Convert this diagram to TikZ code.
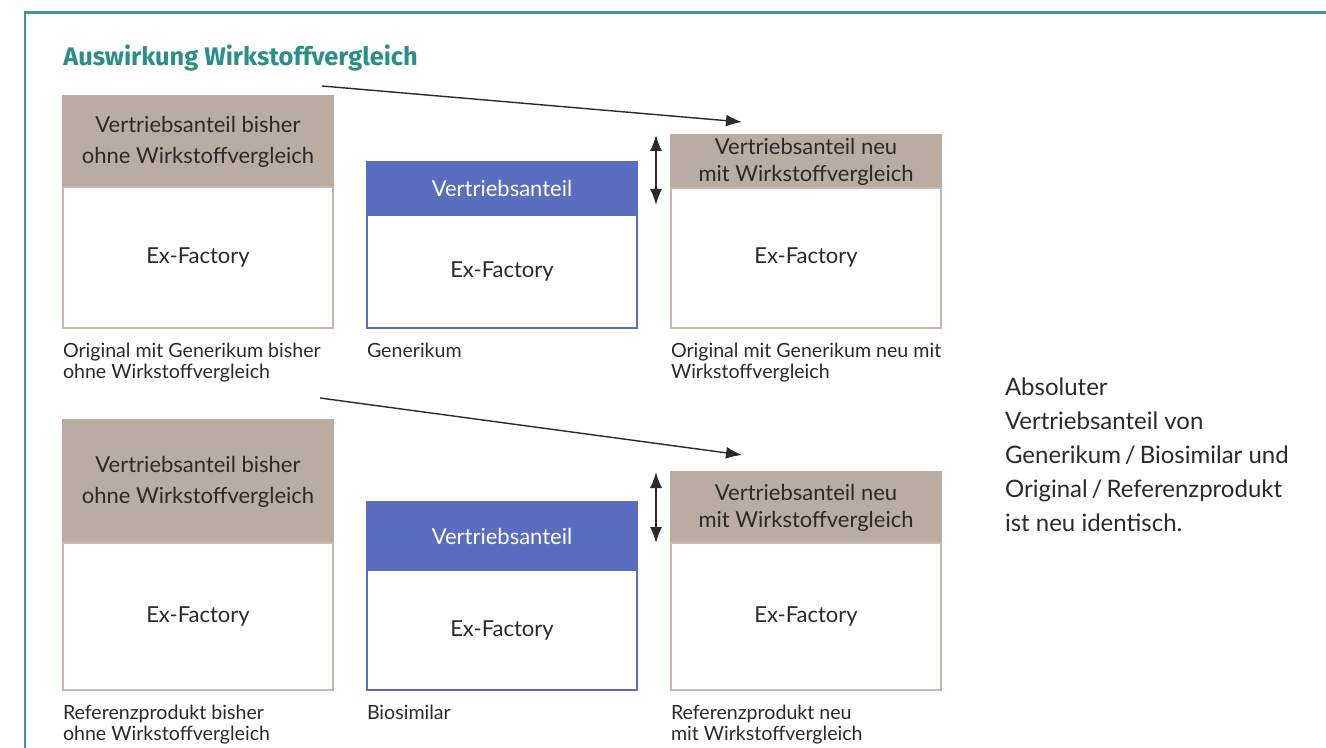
\documentclass[tikz,border=0pt]{standalone}
\usepackage{fontspec}
\setmainfont{Lato}
\newfontfamily\titlefont{Fira Sans}
\usetikzlibrary{positioning,arrows.meta}
\definecolor{tealrand}{HTML}{3A9C9A}
\definecolor{tealtitel}{HTML}{2A8F8A}
\definecolor{taupe}{HTML}{B9ADA3}
\definecolor{taupelinie}{HTML}{C6BAB0}
\definecolor{blau}{HTML}{5B6DBE}
\definecolor{tinte}{HTML}{2A2A2A}
\tikzset{
    box/.style={rectangle,minimum width=135pt,inner sep=0pt,outer sep=0pt,line width=0.8pt,align=center,text=tinte,font=\fontsize{11}{15.5}\selectfont},
    kopf/.style={box,draw=taupe,fill=taupe},
    kopfblau/.style={box,draw=blau,fill=blau,text=white},
    rumpf/.style={box,draw=taupelinie,fill=white},
    rumpfblau/.style={box,draw=blau,fill=white},
    unterschrift/.style={inner sep=0pt,outer sep=0pt,align=left,text=tinte,font=\fontsize{9.8}{10.5}\selectfont},
    pfeil/.style={-{Latex[length=8pt,width=6pt]},line width=0.7pt,draw=tinte},
    doppelpfeil/.style={{Latex[length=8pt,width=6pt]}-{Latex[length=8pt,width=6pt]},line width=0.7pt,draw=tinte}
}

\begin{document}
\begin{tikzpicture}[x=0.5pt,y=-0.5pt]
\useasboundingbox (0,0) rectangle (1326,748);
% rahmen
\draw[tealrand,line width=1.3pt] (25,748) -- (25,12.5) -- (1326,12.5);
\node[anchor=west,inner sep=0pt,text=tealtitel,font=\titlefont\bfseries\fontsize{12.7}{14}\selectfont] (titel) at (63,58) {Auswirkung Wirkstoffvergleich};

% obere reihe
\node[kopf,minimum height=45.5pt,anchor=north west] (a1k) at (63,96) {Vertriebsanteil bisher\\ohne Wirkstoffvergleich};
\node[rumpf,minimum height=70.5pt,below=0pt of a1k] (a1) {Ex-Factory};
\node[kopfblau,minimum height=26.5pt,anchor=north west] (b1k) at (367,162) {Vertriebsanteil};
\node[rumpfblau,minimum height=56.5pt,below=0pt of b1k] (b1) {Ex-Factory};
\node[kopf,minimum height=26.5pt,anchor=north west,font=\fontsize{11}{13.5}\selectfont] (c1k) at (671,135) {Vertriebsanteil neu\\mit Wirkstoffvergleich};
\node[rumpf,minimum height=70pt,below=0pt of c1k] (c1) {Ex-Factory};

\node[unterschrift,below=7.5pt of a1.south west,anchor=north west] (a1u) {Original mit Generikum bisher\\ohne Wirkstoffvergleich};
\node[unterschrift,below=7.5pt of b1.south west,anchor=north west] (b1u) {Generikum};
\node[unterschrift,below=7.5pt of c1.south west,anchor=north west] (c1u) {Original mit Generikum neu mit\\Wirkstoffvergleich};

\coordinate (s1) at (322,86);
\coordinate (e1) at (742,122);
\draw[pfeil] (s1) -- (e1);
\coordinate (d1o) at (656,135);
\coordinate (d1u) at (656,205);
\draw[doppelpfeil] (d1o) -- (d1u);

% untere reihe
\node[kopf,minimum height=61.5pt,anchor=north west] (a2k) at (63,420) {Vertriebsanteil bisher\\ohne Wirkstoffvergleich};
\node[rumpf,minimum height=73.5pt,below=0pt of a2k] (a2) {Ex-Factory};
\node[kopfblau,minimum height=34pt,anchor=north west] (b2k) at (367,502) {Vertriebsanteil};
\node[rumpfblau,minimum height=60pt,below=0pt of b2k] (b2) {Ex-Factory};
\node[kopf,minimum height=35.5pt,anchor=north west,font=\fontsize{11}{13.5}\selectfont] (c2k) at (671,472) {Vertriebsanteil neu\\mit Wirkstoffvergleich};
\node[rumpf,minimum height=73.5pt,below=0pt of c2k] (c2) {Ex-Factory};

\node[unterschrift,below=7.5pt of a2.south west,anchor=north west] (a2u) {Referenzprodukt bisher\\ohne Wirkstoffvergleich};
\node[unterschrift,below=7.5pt of b2.south west,anchor=north west] (b2u) {Biosimilar};
\node[unterschrift,below=7.5pt of c2.south west,anchor=north west] (c2u) {Referenzprodukt neu\\mit Wirkstoffvergleich};

\coordinate (s2) at (320,398);
\coordinate (e2) at (742,455);
\draw[pfeil] (s2) -- (e2);
\coordinate (d2o) at (656,472);
\coordinate (d2u) at (656,543);
\draw[doppelpfeil] (d2o) -- (d2u);

% notiz
\node[unterschrift,anchor=north west,font=\fontsize{12}{17}\selectfont] (notiz) at (1005,378) {Absoluter\\Vertriebsanteil von\\Generikum\,/\,Biosimilar und\\Original\,/\,Referenzprodukt\\ist neu identisch.};
\end{tikzpicture}
\end{document}
